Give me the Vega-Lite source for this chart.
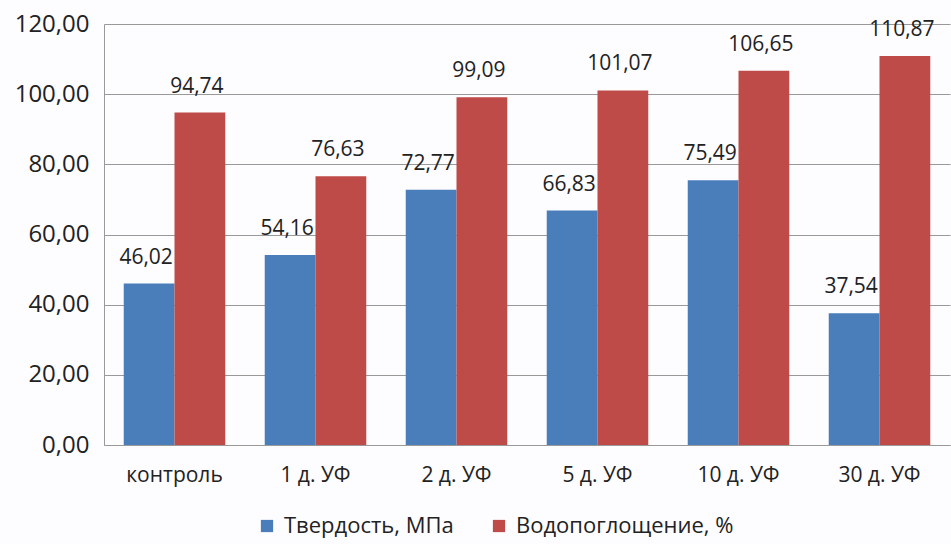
{
  "$schema": "https://vega.github.io/schema/vega-lite/v6.json",
  "autosize": "none",
  "width": 846,
  "height": 421,
  "padding": {"left": 104, "top": 24, "right": 1, "bottom": 99},
  "background": "#fdfcfe",
  "config": {
    "locale": {"number": {"decimal": ",", "thousands": " ", "grouping": [3], "currency": ["", ""]}},
    "view": {"stroke": null},
    "font": "Open Sans",
    "axis": {"labelOverlap": false, "labelBound": false}
  },
  "data": {
    "values": [
      {"cat": "контроль", "series": "Твердость, МПа", "value": 46.02},
      {"cat": "контроль", "series": "Водопоглощение, %", "value": 94.74},
      {"cat": "1 д. УФ", "series": "Твердость, МПа", "value": 54.16},
      {"cat": "1 д. УФ", "series": "Водопоглощение, %", "value": 76.63},
      {"cat": "2 д. УФ", "series": "Твердость, МПа", "value": 72.77},
      {"cat": "2 д. УФ", "series": "Водопоглощение, %", "value": 99.09},
      {"cat": "5 д. УФ", "series": "Твердость, МПа", "value": 66.83},
      {"cat": "5 д. УФ", "series": "Водопоглощение, %", "value": 101.07},
      {"cat": "10 д. УФ", "series": "Твердость, МПа", "value": 75.49},
      {"cat": "10 д. УФ", "series": "Водопоглощение, %", "value": 106.65},
      {"cat": "30 д. УФ", "series": "Твердость, МПа", "value": 37.54},
      {"cat": "30 д. УФ", "series": "Водопоглощение, %", "value": 110.87}
    ]
  },
  "encoding": {
    "x": {
      "field": "cat", "type": "nominal", "sort": null,
      "scale": {"paddingInner": 0.28, "paddingOuter": 0.14},
      "axis": {"title": null, "labelAngle": 0, "labelFontSize": 21, "labelColor": "#222", "labelPadding": 19, "ticks": false, "domainColor": "#999", "labelOverlap": false}
    },
    "xOffset": {"field": "series", "type": "nominal", "sort": ["Твердость, МПа", "Водопоглощение, %"]},
    "y": {
      "field": "value", "type": "quantitative",
      "scale": {"domain": [0, 120]},
      "axis": {"title": null, "values": [0, 20, 40, 60, 80, 100, 120], "format": ".2f", "labelFontSize": 24, "labelColor": "#222", "labelPadding": 15, "ticks": false, "domainColor": "#999", "gridColor": "#999", "gridWidth": 1, "labelOverlap": false}
    }
  },
  "layer": [
    {
      "mark": {"type": "bar"},
      "encoding": {
        "color": {
          "field": "series", "type": "nominal",
          "sort": ["Твердость, МПа", "Водопоглощение, %"],
          "scale": {"domain": ["Твердость, МПа", "Водопоглощение, %"], "range": ["#4a7ebb", "#be4b48"]},
          "legend": {"title": null, "orient": "none", "direction": "horizontal", "legendX": 152, "legendY": 491, "symbolType": "square", "symbolSize": 150, "symbolStrokeWidth": 0, "labelFontSize": 22, "labelColor": "#222", "labelLimit": 400, "columnPadding": 34, "labelOffset": 6}
        }
      }
    },
    {
      "mark": {"type": "text", "dy": -26, "fontSize": 21, "color": "#222", "dx": -3},
      "encoding": {
        "text": {"field": "value", "type": "quantitative", "format": ".2f"}
      }
    }
  ]
}
